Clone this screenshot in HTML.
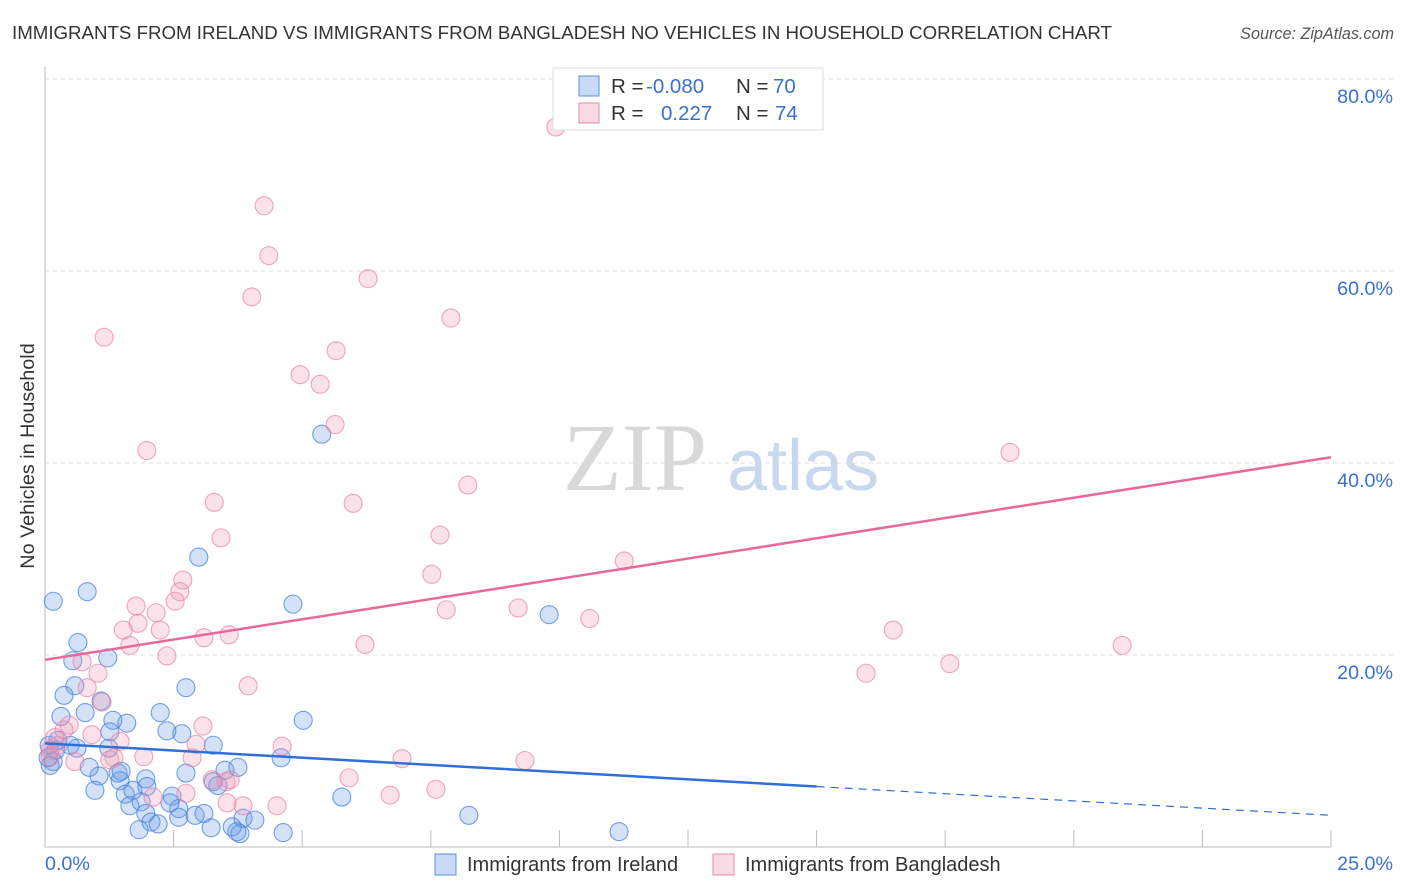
<!DOCTYPE html>
<html><head><meta charset="utf-8"><style>
body{margin:0;background:#fff;font-family:"Liberation Sans",sans-serif;}
svg{display:block}
</style></head><body>
<svg id="chart" width="1406" height="892" viewBox="0 0 1406 892">
<text x="12" y="39" font-size="18.7" fill="#333">IMMIGRANTS FROM IRELAND VS IMMIGRANTS FROM BANGLADESH NO VEHICLES IN HOUSEHOLD CORRELATION CHART</text>
<text x="1394" y="39" font-size="16.2" fill="#555" font-style="italic" text-anchor="end">Source: ZipAtlas.com</text>
<g>
<text x="635" y="490" font-size="96" font-family="Liberation Serif,serif" fill="#d8d8d8" text-anchor="middle">ZIP</text>
<text x="803" y="490" font-size="72" fill="#c8d8ee" text-anchor="middle">atlas</text>
</g>
<g id="grid"></g>
<g id="axes"></g>
<g id="points"></g>
<g id="trends"></g>
<text transform="translate(34,456) rotate(-90)" font-size="19.8" fill="#333" text-anchor="middle">No Vehicles in Household</text>
<g>
<rect x="553" y="68" width="270" height="62" fill="#fff" stroke="#ddd"/>
<rect x="579" y="76" width="20" height="20" fill="rgba(100,150,230,0.35)" stroke="#5a8fe0"/>
<rect x="579" y="103" width="20" height="20" fill="rgba(240,150,180,0.35)" stroke="#e98aa8"/>
<text x="611" y="93" font-size="20.5" fill="#333">R = <tspan fill="#3b6fd0" x="646">-0.080</tspan></text>
<text x="736" y="93" font-size="20.5" fill="#333">N = <tspan fill="#3b6fd0" x="773">70</tspan></text>
<text x="611" y="120" font-size="20.5" fill="#333">R = <tspan fill="#3b6fd0" x="661">0.227</tspan></text>
<text x="736" y="120" font-size="20.5" fill="#333">N = <tspan fill="#3b6fd0" x="775">74</tspan></text>
</g>
<g>
<rect x="435" y="854" width="21" height="21" fill="rgba(100,150,230,0.35)" stroke="#5a8fe0"/>
<text x="467" y="871" font-size="20" fill="#333">Immigrants from Ireland</text>
<rect x="713" y="854" width="21" height="21" fill="rgba(240,150,180,0.35)" stroke="#e98aa8"/>
<text x="745" y="871" font-size="20" fill="#333">Immigrants from Bangladesh</text>
</g>
</svg>
<script>
const xMax = 25;
const yTicks = [20, 40, 60, 80];
const yTickLabels = ["20.0%", "40.0%", "60.0%", "80.0%"];
const xTickLabels = ["0.0%", "25.0%"];
const irelandX = [0.16,0.82,0.64,0.54,1.22,0.58,0.37,0.78,1.09,1.32,1.59,1.26,0.31,0.08,0.25,0.49,0.16,0.10,0.86,1.05,1.42,1.48,1.46,1.96,0.97,1.56,1.71,1.98,1.65,1.87,2.47,2.60,2.43,1.96,2.06,2.20,1.83,2.60,2.92,3.09,3.27,3.50,3.75,3.36,3.23,3.64,3.79,3.85,4.08,3.73,4.63,2.24,2.37,2.66,2.74,2.74,3.27,2.99,4.82,5.02,4.59,5.38,5.77,8.24,9.80,11.16,1.24,0.62,0.21,0.06];
const irelandY = [25.6,26.6,21.3,19.4,19.7,16.8,15.8,14.0,15.2,13.2,12.9,12.0,13.6,10.6,11.1,10.6,8.9,8.5,8.3,7.4,7.7,7.9,6.9,7.1,5.9,5.5,5.9,6.3,4.3,4.7,5.3,4.0,4.6,3.5,2.6,2.4,1.8,3.1,3.3,3.5,6.8,8.0,8.3,6.4,2.0,2.1,1.4,3.0,2.8,1.6,1.5,14.0,12.1,11.8,16.6,7.7,10.6,30.2,25.3,13.2,9.3,43.0,5.2,3.3,24.2,1.6,10.3,10.3,10.1,9.3];
const bangX = [9.93,4.26,4.35,4.02,6.28,1.15,7.89,5.66,4.96,5.35,5.64,1.98,18.76,8.22,5.99,3.29,3.42,7.68,11.26,7.52,2.68,2.62,1.77,2.53,2.16,1.81,1.52,2.24,7.80,9.20,10.59,3.09,3.58,1.65,6.22,2.37,16.49,15.96,17.59,20.94,0.72,1.03,0.82,3.95,1.11,0.47,0.37,0.91,3.07,1.46,2.94,4.61,0.25,0.10,1.92,1.34,2.86,6.94,9.33,0.58,5.91,3.25,3.52,7.60,6.71,2.74,2.10,3.54,3.85,4.51,0.10,1.26,0.19,3.60];
const bangY = [75.0,66.8,61.6,57.3,59.2,53.1,55.1,51.7,49.2,48.2,44.0,41.3,41.1,37.7,35.8,35.9,32.2,32.5,29.8,28.4,27.8,26.6,25.1,25.6,24.4,23.3,22.6,22.6,24.7,24.9,23.8,21.8,22.1,21.0,21.1,19.9,22.6,18.1,19.1,21.0,19.3,18.1,16.6,16.8,15.1,12.7,12.2,11.7,12.6,11.0,10.7,10.5,10.6,10.1,9.4,9.3,9.3,9.2,9.0,8.9,7.2,7.0,6.8,6.0,5.4,5.6,5.2,4.6,4.3,4.3,9.4,9.1,11.4,7.0];
const bangTrend = [19.5, 40.6];
const irelandTrend = [10.8, 3.3];
const irelandSolidEnd = 15;

const NS = "http://www.w3.org/2000/svg";
const X0 = 45, X1 = 1331, Y0 = 847, Yper = 9.6;
const sx = v => X0 + v / xMax * (X1 - X0);
const sy = v => Y0 - v * Yper;
function mk(tag, attrs, parent) {
  const e = document.createElementNS(NS, tag);
  for (const k in attrs) e.setAttribute(k, attrs[k]);
  parent.appendChild(e);
  return e;
}
const grid = document.getElementById('grid'), axes = document.getElementById('axes');
yTicks.forEach((t, i) => {
  const l = mk('line', {x1: X0, x2: 1394, y1: sy(t), y2: sy(t), stroke: '#ddd', 'stroke-dasharray': '4,4'}, grid);
  
  
  const tx = mk('text', {x: 1393, y: sy(t) + 24, 'font-size': 19.7, fill: '#3b6fd0', 'text-anchor': 'end'}, axes);
  tx.textContent = yTickLabels[i];
  
  
});
const ax = mk('path', {d: `M${X0},67 V${Y0} H${X1}`, stroke: '#bbb', fill: 'none'}, axes);


for (let i = 1; i <= 10; i++) {
  const v = i * 2.5;
  const tk = mk('line', {x1: sx(v), x2: sx(v), y1: Y0 - 17, y2: Y0, stroke: '#bbb'}, axes);
  
  
}
const xl0 = mk('text', {x: 45, y: 870, 'font-size': 19.7, fill: '#3b6fd0'}, axes);
xl0.textContent = xTickLabels[0];


const xl1 = mk('text', {x: 1393, y: 870, 'font-size': 19.7, fill: '#3b6fd0', 'text-anchor': 'end'}, axes);
xl1.textContent = xTickLabels[1];



const pts = document.getElementById('points');
irelandX.forEach((x, i) => {
  const c = mk('circle', {cx: sx(x), cy: sy(irelandY[i]), r: 9, fill: 'rgba(100,150,230,0.28)', stroke: 'rgba(70,130,220,0.75)', 'stroke-width': 1.1}, pts);
  
  
});
bangX.forEach((x, i) => {
  const c = mk('circle', {cx: sx(x), cy: sy(bangY[i]), r: 9, fill: 'rgba(240,150,180,0.28)', stroke: 'rgba(230,130,165,0.7)', 'stroke-width': 1.1}, pts);
  
  
});
const tr = document.getElementById('trends');
const pl = mk('line', {x1: sx(0), y1: sy(bangTrend[0]), x2: sx(xMax), y2: sy(bangTrend[1]), stroke: '#e8689a', 'stroke-width': 2.5}, tr);


const yAt = x => irelandTrend[0] + (irelandTrend[1] - irelandTrend[0]) * x / xMax;
const bl = mk('line', {x1: sx(0), y1: sy(irelandTrend[0]), x2: sx(irelandSolidEnd), y2: sy(yAt(irelandSolidEnd)), stroke: '#2f6fd6', 'stroke-width': 2.5}, tr);


const bd = mk('line', {x1: sx(irelandSolidEnd), y1: sy(yAt(irelandSolidEnd)), x2: sx(xMax), y2: sy(irelandTrend[1]), stroke: '#2f6fd6', 'stroke-width': 1.2, 'stroke-dasharray': '8,6'}, tr);


</script>
</body></html>
